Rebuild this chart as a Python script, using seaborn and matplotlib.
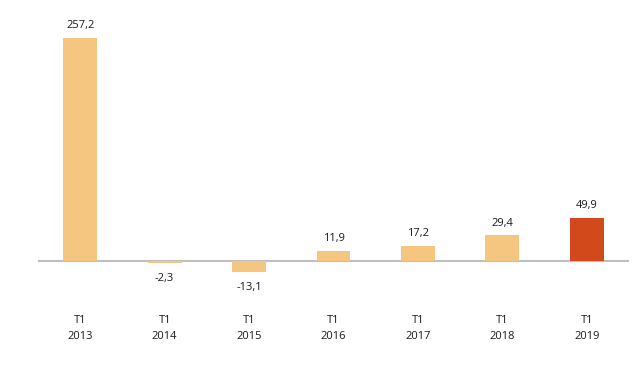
import matplotlib
matplotlib.use("Agg")
import matplotlib.pyplot as plt
import seaborn as sns
import pandas as pd

# données
periodes = ["T1\n2013", "T1\n2014", "T1\n2015", "T1\n2016", "T1\n2017", "T1\n2018", "T1\n2019"]
valeurs = [257.2, -2.3, -13.1, 11.9, 17.2, 29.4, 49.9]
etiquettes = ["257,2", "-2,3", "-13,1", "11,9", "17,2", "29,4", "49,9"]
couleurs = ["#F4C67F"] * 6 + ["#D2491C"]

df = pd.DataFrame({"periode": periodes, "valeur": valeurs})

sns.set_theme(style="white")
plt.rcParams["font.family"] = ["Open Sans", "DejaVu Sans"]

fig = plt.figure(figsize=(6.4, 3.7), dpi=100)
ax = fig.add_axes([38 / 640, 70 / 370, (629 - 38) / 640, 290 / 370])

sns.barplot(data=df, x="periode", y="valeur", hue="periode", palette=couleurs,
            legend=False, width=0.4, ax=ax, saturation=1, linewidth=0, edgecolor="none")

ax.axhline(0, color="#BFBFBF", linewidth=1.5, zorder=0)
ax.set_xlim(-0.5, 6.5)
ax.set_ylim(-45, 289.5)

for i, (v, t) in enumerate(zip(valeurs, etiquettes)):
    if v >= 0:
        ax.annotate(t, (i, v), xytext=(0, 5), textcoords="offset points",
                    ha="center", va="bottom", fontsize=8, color="#1a1a1a")
    else:
        ax.annotate(t, (i, v), xytext=(0, -7), textcoords="offset points",
                    ha="center", va="top", fontsize=8, color="#1a1a1a")

ax.set_yticks([])
ax.set_xlabel("")
ax.set_ylabel("")
ax.tick_params(axis="x", length=0, pad=11, labelsize=8, labelcolor="#1a1a1a")
for lab in ax.get_xticklabels():
    lab.set_linespacing(1.6)
for s in ax.spines.values():
    s.set_visible(False)

fig.savefig("out.png", dpi=100, facecolor="white")
